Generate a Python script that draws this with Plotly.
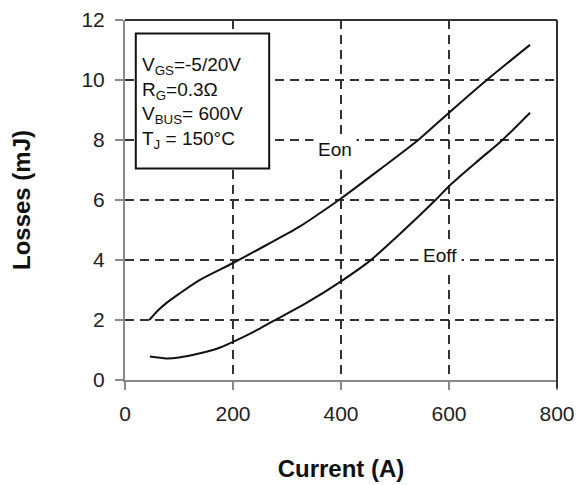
import plotly.graph_objects as go

# Data
eon_x = [45, 60, 77, 100, 138, 200, 262, 324, 360, 400, 472, 543, 600, 670, 750]
eon_y = [2.0, 2.3, 2.57, 2.87, 3.33, 3.9, 4.5, 5.12, 5.55, 6.05, 7.02, 8.0, 8.91, 10.0, 11.17]
eoff_x = [46, 77, 100, 139, 170, 200, 240, 275, 337, 400, 454, 500, 575, 600, 650, 700, 750]
eoff_y = [0.78, 0.72, 0.75, 0.89, 1.04, 1.27, 1.62, 1.97, 2.58, 3.29, 3.98, 4.72, 6.0, 6.46, 7.25, 8.02, 8.91]
x_ticks = [0, 200, 400, 600, 800]
y_ticks = [0, 2, 4, 6, 8, 10, 12]
cond_text = "V<sub>GS</sub>=-5/20V<br>R<sub>G</sub>=0.3Ω<br>V<sub>BUS</sub>= 600V<br>T<sub>J</sub> = 150°C"

FONT = "Liberation Sans, Arial, sans-serif"

fig = go.Figure()
fig.add_trace(go.Scatter(x=eon_x, y=eon_y, mode="lines", line=dict(color="#111", width=2, shape="spline", smoothing=0.8), name="Eon"))
fig.add_trace(go.Scatter(x=eoff_x, y=eoff_y, mode="lines", line=dict(color="#111", width=2, shape="spline", smoothing=0.8), name="Eoff"))

grid = dict(showgrid=True, gridcolor="#333", gridwidth=2, griddash="9px,6px")
fig.update_xaxes(range=[0, 800], tickvals=x_ticks, ticks="outside", ticklen=8, tickwidth=2,
                 tickcolor="#888", showline=True, linecolor="#888", linewidth=2, zeroline=False,
                 tickfont=dict(size=21, color="#222", family=FONT), ticklabelstandoff=6, automargin=False,
                 title=dict(text="<b>Current (A)</b>", font=dict(size=24, color="#111", family=FONT), standoff=36),
                 **grid)
fig.update_yaxes(range=[0, 12], tickvals=y_ticks, ticks="outside", ticklen=8, tickwidth=2,
                 tickcolor="#888", showline=True, linecolor="#888", linewidth=2, zeroline=False,
                 tickfont=dict(size=21, color="#222", family=FONT), ticklabelstandoff=6, automargin=False,
                 title=dict(text="<b>Losses (mJ)</b>", font=dict(size=24, color="#111", family=FONT), standoff=48),
                 **grid)

# frame top/right
fig.add_shape(type="line", xref="paper", yref="paper", x0=0, x1=1, y0=1, y1=1, line=dict(color="#333", width=2))
fig.add_shape(type="line", xref="paper", yref="paper", x0=1, x1=1, y0=-0.022, y1=1, line=dict(color="#333", width=2))

# condition box
fig.add_shape(type="rect", xref="x", yref="y", x0=20, x1=267, y0=7.05, y1=11.55,
              line=dict(color="#111", width=2), fillcolor="white", layer="above")
fig.add_annotation(x=27, y=10.93, xref="x", yref="y", text=cond_text, showarrow=False,
                   xanchor="left", yanchor="top", align="left",
                   font=dict(size=19, color="#111", family=FONT))

fig.add_annotation(x=389, y=7.69, text="Eon", showarrow=False, bgcolor="white",
                   font=dict(size=19, color="#111", family=FONT), borderpad=4)
fig.add_annotation(x=583, y=4.15, text="Eoff", showarrow=False, bgcolor="white",
                   font=dict(size=19, color="#111", family=FONT), borderpad=4)

# page body has an 8px margin, so the figure is sized to the visible area
fig.update_layout(width=577, height=477, margin=dict(l=117, r=28, t=12, b=105),
                  paper_bgcolor="white", plot_bgcolor="white", showlegend=False,
                  font=dict(family=FONT))

fig.write_html("out.html")
